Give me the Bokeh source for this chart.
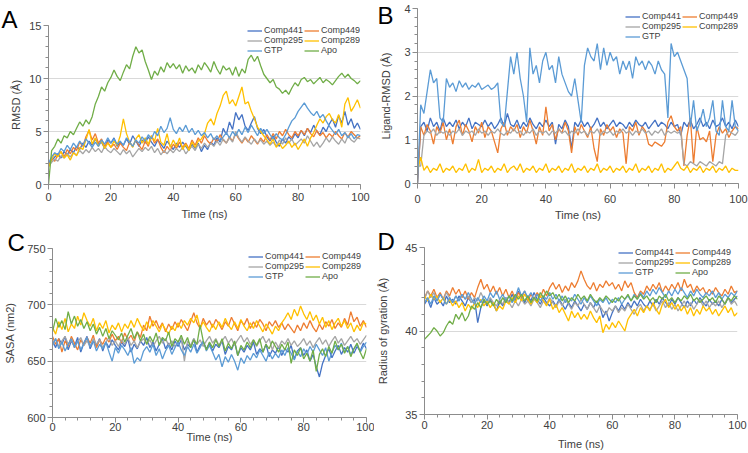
from bokeh.plotting import figure
from bokeh.models import Range1d, SingleIntervalTicker, Legend, LegendItem
from bokeh.layouts import column, row
from bokeh.embed import file_html
from bokeh.resources import INLINE

# ---------------- data ----------------
TIME = list(range(0, 101))  # ns, 1 ns sampling
SERIES = ["Comp441", "Comp449", "Comp295", "Comp289", "GTP", "Apo"]
# legend fills column by column: (Comp441, Comp295, GTP) | (Comp449, Comp289, Apo)
LEGEND_ORDER = ["Comp441", "Comp295", "GTP", "Comp449", "Comp289", "Apo"]
COLORS = {"Comp441": "#4472C4", "Comp449": "#ED7D31", "Comp295": "#A5A5A5",
          "Comp289": "#FFC000", "GTP": "#5B9BD5", "Apo": "#70AD47"}

# Panel A: RMSD (Å)
A_COMP441 = [1.8,
    2.3, 2.6, 2.9, 2.5, 3.1, 2.8, 3.3, 3.0, 3.6, 3.3,
    3.9, 3.5, 4.1, 3.7, 4.3, 3.8, 4.0, 3.4, 4.2, 3.9,
    4.4, 3.6, 4.0, 3.7, 4.3, 3.8, 4.6, 4.1, 3.6, 4.2,
    3.9, 4.5, 4.0, 3.6, 4.2, 3.8, 3.4, 4.1, 3.7, 3.3,
    3.9, 3.5, 4.0, 3.6, 3.2, 3.8, 3.4, 3.9, 3.1, 3.7,
    3.3, 4.0, 3.7, 4.4, 4.0, 5.3, 4.7, 5.9, 5.2, 6.8,
    6.1, 6.6, 5.5, 5.1, 5.8, 6.4, 5.3, 4.8, 5.2, 4.5,
    4.1, 4.6, 4.0, 3.6, 4.3, 3.9, 4.5, 4.2, 4.8, 4.4,
    5.1, 4.6, 5.3, 4.9, 5.6, 5.0, 4.7, 5.4, 5.0, 5.7,
    6.2, 5.4, 6.5, 5.8, 6.9, 5.6, 6.2, 5.3, 5.8, 5.2]
A_COMP449 = [1.9,
    2.4, 2.2, 2.8, 3.1, 2.6, 3.3, 2.9, 3.5, 3.2, 4.0,
    3.6, 4.5, 5.1, 4.2, 4.8, 3.9, 4.3, 3.6, 4.0, 3.5,
    3.8, 3.3, 3.9, 3.5, 3.2, 4.0, 3.6, 4.2, 3.7, 3.3,
    4.1, 3.6, 4.6, 3.9, 4.3, 3.5, 3.0, 3.6, 3.2, 3.8,
    3.4, 4.0, 3.5, 3.9, 3.4, 4.2, 3.7, 4.4, 3.9, 4.6,
    4.1, 3.8, 4.4, 4.0, 4.7, 4.2, 3.9, 4.5, 4.1, 4.8,
    4.3, 3.9, 4.4, 4.0, 4.6, 4.2, 3.8, 4.4, 4.0, 4.7,
    4.2, 4.8, 4.3, 5.0, 4.6, 5.2, 4.7, 4.4, 5.0, 4.6,
    5.1, 4.7, 5.3, 4.8, 4.5, 5.1, 4.6, 4.9, 4.4, 4.8,
    4.5, 5.0, 4.6, 4.3, 4.9, 4.5, 5.0, 4.7, 4.4, 4.6]
A_COMP295 = [1.7,
    2.1, 2.4, 2.2, 2.7, 2.5, 2.9, 2.6, 3.0, 2.8, 3.2,
    2.9, 3.3, 3.0, 3.5, 3.1, 3.4, 3.0, 3.6, 3.2, 3.0,
    3.4, 3.1, 2.8, 3.3, 2.9, 3.2, 2.6, 3.0, 3.4, 3.1,
    3.5, 3.2, 3.6, 3.0, 3.4, 2.8, 3.2, 2.9, 3.3, 3.0,
    3.4, 3.1, 3.5, 2.9, 3.3, 3.6, 3.2, 3.8, 3.4, 3.9,
    3.5, 3.9, 3.6, 4.1, 3.7, 4.3, 3.9, 4.4, 4.0, 5.0,
    4.4, 4.0, 4.5, 4.1, 3.8, 4.3, 3.9, 4.2, 3.8, 4.1,
    3.7, 4.0, 3.6, 4.2, 3.8, 4.4, 3.9, 4.3, 3.7, 4.0,
    4.3, 3.9, 4.6, 4.1, 3.6, 4.0, 3.5, 3.9, 4.4, 4.0,
    4.5, 4.1, 3.8, 4.3, 3.9, 4.6, 4.2, 4.0, 4.4, 4.3]
A_COMP289 = [1.6,
    2.4, 2.9, 2.6, 3.1, 2.5, 2.8, 2.3, 3.0, 2.7, 3.5,
    3.3, 4.2, 5.2, 3.8, 4.4, 3.6, 4.1, 3.4, 3.9, 3.5,
    4.1, 3.7, 4.6, 6.2, 4.8, 4.0, 3.5, 4.3, 4.7, 3.9,
    4.4, 3.8, 4.6, 4.1, 5.3, 4.0, 3.7, 4.8, 3.5, 4.2,
    3.6, 4.4, 3.3, 3.8, 3.2, 4.0, 3.5, 4.1, 4.3, 4.8,
    5.8, 6.2, 5.6, 6.7, 7.4, 8.4, 8.8, 7.6, 8.0, 7.4,
    8.3, 9.2, 7.6, 7.8, 6.9, 6.2, 5.4, 5.0, 4.6, 4.2,
    3.8, 4.3, 3.5, 3.9, 3.4, 3.7, 4.1, 3.5, 3.9, 3.3,
    3.8, 4.3, 3.6, 4.4, 4.9, 5.6, 6.2, 5.8, 6.4, 6.7,
    6.1, 5.8, 6.6, 5.4, 7.6, 8.2, 6.9, 7.4, 8.0, 7.2]
A_GTP = [2.0,
    2.6, 3.0, 2.8, 3.4, 3.1, 3.7, 3.3, 3.9, 3.5, 4.1,
    3.7, 4.3, 3.9, 3.5, 4.0, 3.6, 4.2, 3.8, 4.4, 3.9,
    4.3, 3.8, 4.1, 3.7, 4.4, 4.0, 3.6, 4.2, 3.9, 4.5,
    4.1, 4.7, 4.3, 5.0, 4.6, 5.5, 4.9, 5.3, 6.3, 5.2,
    4.8, 5.4, 5.0, 5.6, 4.9, 5.3, 4.7, 5.1, 4.6, 4.9,
    4.4, 4.8, 4.2, 4.6, 4.1, 4.5, 4.9, 4.4, 5.0, 4.6,
    5.2, 4.7, 5.4, 4.9, 5.6, 5.1, 4.6, 5.3, 4.8, 5.2,
    4.7, 4.3, 4.8, 4.4, 4.2, 4.7, 5.4, 6.0, 6.3, 6.9,
    7.3, 7.7, 7.2, 6.8, 6.5, 6.9, 6.3, 6.6, 6.0, 5.5,
    5.1, 4.7, 5.2, 4.6, 4.9, 4.4, 4.8, 4.3, 4.7, 4.6]
A_APO = [0.0,
    3.2, 3.6, 4.3, 3.9, 4.6, 4.4, 5.0, 4.7, 5.3, 5.9,
    5.5, 6.1, 5.7, 6.4, 7.6, 8.3, 9.2, 8.8, 9.6, 10.1,
    10.8, 10.2, 9.8, 10.6, 11.3, 10.9, 12.1, 13.0, 12.4, 12.7,
    11.6, 10.8, 9.9, 10.7, 10.3, 11.1, 10.6, 11.5, 11.0, 11.4,
    10.9, 11.3, 10.5, 11.2, 10.7, 11.0, 10.5, 11.3, 10.8, 11.5,
    11.1, 10.6, 11.6, 10.9, 10.4, 11.2, 10.8, 11.0, 10.3, 11.1,
    10.2, 10.9, 10.5, 11.8, 12.2, 11.6, 12.1, 11.2, 10.4, 10.0,
    9.6, 9.9, 9.2, 9.0, 8.6, 8.9, 8.5, 9.1, 9.6, 9.3,
    9.9, 10.1, 9.7, 9.9, 9.5, 9.8, 10.1, 9.6, 9.9, 9.7,
    9.4, 9.8, 10.2, 10.5, 10.1, 10.4, 10.0, 9.8, 9.5, 9.8]

# Panel B: Ligand-RMSD (Å)
B_COMP441 = [0.0,
    1.3, 1.4, 1.2, 1.5, 1.3, 1.4, 1.2, 1.5, 1.3, 1.4,
    1.3, 1.45, 1.25, 1.4, 1.3, 1.5, 1.25, 1.4, 1.35, 1.3,
    1.45, 1.3, 1.4, 1.25, 1.35, 1.5, 1.3, 1.6, 1.35, 1.3,
    1.45, 1.25, 1.4, 1.3, 1.5, 1.35, 1.25, 1.4, 1.3, 1.45,
    1.3, 1.4, 0.9, 1.35, 1.25, 1.45, 1.3, 0.8, 1.4, 1.3,
    1.45, 1.3, 1.4, 1.25, 1.35, 1.5, 1.3, 1.4, 1.25, 1.35,
    1.45, 1.3, 1.4, 1.35, 1.25, 1.4, 1.3, 1.45, 1.35, 1.3,
    1.4, 1.25, 1.35, 1.45, 1.3, 1.4, 1.35, 1.25, 1.4, 1.3,
    1.35, 1.1, 1.4, 1.3, 1.45, 1.25, 1.35, 1.5, 1.3, 1.4,
    1.25, 1.45, 1.3, 1.35, 1.5, 1.3, 1.4, 1.25, 1.45, 1.3]
B_COMP449 = [0.0,
    1.3, 1.1, 1.35, 1.2, 0.9, 1.3, 1.15, 1.4, 1.0, 1.25,
    0.9, 1.3, 1.45, 1.1, 1.35, 1.2, 0.95, 1.3, 1.15, 1.4,
    1.05, 1.3, 1.2, 0.95, 0.7, 1.25, 1.4, 1.1, 1.3, 1.2,
    1.35, 1.05, 1.3, 1.15, 1.45, 1.2, 0.9, 1.3, 1.1, 1.75,
    1.2, 1.35, 1.0, 1.25, 1.15, 1.4, 1.2, 0.7, 1.3, 1.1,
    1.35, 1.2, 1.05, 1.3, 0.8, 0.5, 1.25, 1.1, 1.35, 1.2,
    1.3, 1.05, 1.25, 1.15, 0.45, 1.3, 1.2, 1.4, 1.1, 1.3,
    1.2, 0.9, 0.85, 0.95, 0.9, 0.85, 0.95, 1.4, 1.55, 1.3,
    1.2, 1.3, 0.4, 1.1, 1.5, 0.45, 1.3, 1.0, 1.05, 0.95,
    1.2, 0.5, 1.1, 1.3, 1.15, 1.25, 1.05, 1.2, 1.3, 1.25]
B_COMP295 = [0.4,
    0.4, 1.1, 1.2, 1.15, 1.25, 1.1, 1.2, 1.15, 1.2, 1.1,
    1.2, 1.15, 1.25, 1.1, 1.2, 1.15, 1.2, 1.1, 1.25, 1.15,
    1.2, 1.1, 1.2, 1.15, 1.25, 1.15, 1.1, 1.2, 1.15, 1.25,
    1.15, 1.2, 1.1, 1.2, 1.15, 1.25, 1.1, 1.2, 1.15, 1.2,
    1.1, 1.2, 1.15, 1.25, 1.15, 1.2, 1.1, 1.2, 1.15, 1.25,
    1.15, 1.2, 1.1, 1.2, 1.15, 1.25, 1.1, 1.2, 1.15, 1.2,
    1.1, 1.2, 1.15, 1.25, 1.15, 1.2, 1.1, 1.2, 1.15, 1.25,
    1.15, 1.2, 1.1, 1.2, 1.15, 1.25, 1.1, 1.2, 1.15, 1.2,
    1.15, 1.2, 0.45, 0.4, 0.5, 0.45, 0.4, 0.5, 0.45, 0.4,
    0.5, 0.45, 0.4, 0.5, 0.45, 1.1, 1.2, 1.15, 1.1, 1.2]
B_COMP289 = [0.3,
    0.6, 0.3, 0.4, 0.25, 0.35, 0.3, 0.45, 0.25, 0.35, 0.3,
    0.4, 0.25, 0.35, 0.3, 0.45, 0.25, 0.35, 0.3, 0.55, 0.25,
    0.35, 0.3, 0.4, 0.25, 0.35, 0.3, 0.45, 0.25, 0.35, 0.4,
    0.3, 0.45, 0.25, 0.35, 0.3, 0.4, 0.25, 0.35, 0.3, 0.45,
    0.25, 0.35, 0.3, 0.4, 0.25, 0.35, 0.3, 0.45, 0.25, 0.35,
    0.3, 0.4, 0.25, 0.35, 0.3, 0.45, 0.25, 0.35, 0.3, 0.4,
    0.25, 0.35, 0.3, 0.4, 0.25, 0.35, 0.3, 0.45, 0.25, 0.35,
    0.3, 0.4, 0.25, 0.35, 0.3, 0.45, 0.25, 0.35, 0.3, 0.4,
    0.5, 0.35, 0.3, 0.4, 0.25, 0.35, 0.3, 0.4, 0.25, 0.35,
    0.3, 0.4, 0.25, 0.35, 0.3, 0.4, 0.25, 0.35, 0.3, 0.3]
B_GTP = [0.0,
    1.8, 1.6, 2.1, 2.6, 2.3, 2.4, 1.5, 1.4, 2.4, 2.2,
    2.3, 2.1, 2.35, 2.2, 2.3, 2.15, 2.25, 2.2, 2.3, 2.15,
    2.2, 2.25, 2.15, 2.2, 2.3, 1.4, 1.3, 2.1, 2.9, 2.5,
    3.0, 2.4, 2.0, 1.4, 3.1, 2.5, 2.7, 2.3, 2.8, 3.0,
    2.6, 2.7, 2.3, 2.9, 2.5, 2.3, 2.1, 2.0, 2.4, 1.9,
    1.4, 2.7, 3.1, 2.9, 2.8, 3.2, 2.6, 3.1, 2.7, 3.0,
    2.8, 2.9, 2.5, 2.8, 2.6, 2.8, 2.4, 2.9, 2.7, 2.8,
    2.6, 2.8, 2.7, 2.5, 2.8, 2.6, 2.5, 1.5, 3.2, 2.9,
    3.0, 2.8, 2.6, 2.4, 1.3, 1.9, 1.2, 1.4, 1.7, 1.3,
    1.5, 1.9, 1.2, 1.1, 1.9, 1.3, 1.2, 1.9, 1.3, 1.2]

# Panel C: SASA (nm2)
C_COMP441 = [668,
    662, 670, 665, 672, 660, 668, 663, 671, 658, 666,
    672, 661, 668, 664, 670, 659, 667, 662, 669, 664,
    660, 667, 663, 670, 658, 665, 661, 668, 664, 671,
    662, 667, 659, 665, 670, 661, 666, 660, 668, 663,
    669, 660, 665, 662, 670, 658, 664, 667, 661, 666,
    659, 665, 662, 668, 656, 663, 660, 667, 655, 662,
    658, 664, 660, 667, 656, 661, 658, 665, 654, 660,
    657, 663, 655, 661, 658, 664, 652, 659, 662, 655,
    660, 650, 656, 645, 636, 648, 655, 661, 653, 659,
    664, 656, 662, 658, 665, 657, 663, 659, 666, 661]
C_COMP449 = [672,
    665, 670, 658, 668, 663, 672, 666, 660, 669, 664,
    671, 666, 673, 662, 669, 665, 671, 667, 674, 668,
    672, 666, 675, 669, 673, 667, 676, 671, 682, 677,
    690, 681, 686, 679, 684, 676, 683, 678, 685, 680,
    687, 682, 677, 685, 693, 684, 679, 688, 682, 686,
    680, 687, 683, 678, 685, 681, 689, 683, 677, 686,
    682, 688, 679, 685, 680, 687, 683, 677, 685, 681,
    686, 680, 684, 678, 683, 679, 675, 682, 677, 684,
    679, 686, 680, 676, 683, 678, 685, 681, 687, 679,
    684, 680, 688, 682, 694, 685, 689, 681, 686, 680]
C_COMP295 = [665,
    670, 663, 668, 672, 665, 669, 662, 667, 671, 664,
    668, 663, 670, 665, 669, 662, 667, 671, 664, 668,
    663, 669, 665, 671, 664, 668, 662, 667, 670, 665,
    669, 663, 668, 672, 666, 670, 664, 668, 663, 667,
    671, 650, 668, 664, 670, 665, 669, 663, 668, 672,
    666, 670, 664, 668, 672, 666, 670, 664, 669, 673,
    667, 671, 665, 669, 663, 668, 672, 666, 670, 660,
    667, 662, 668, 665, 670, 664, 668, 663, 666, 670,
    664, 668, 662, 667, 671, 665, 669, 663, 668, 672,
    666, 670, 664, 668, 672, 667, 670, 665, 669, 673]
C_COMP289 = [680,
    674, 685, 678, 688, 676, 683, 679, 690, 682, 693,
    686, 681, 688, 677, 684, 679, 686, 675, 682, 678,
    684, 676, 683, 679, 686, 680, 688, 682, 677, 685,
    679, 686, 681, 676, 683, 678, 674, 681, 677, 684,
    679, 686, 682, 688, 684, 691, 679, 685, 680, 676,
    683, 678, 685, 680, 688, 682, 678, 685, 679, 687,
    681, 677, 684, 679, 686, 681, 676, 683, 679, 674,
    681, 677, 684, 688, 693, 687, 696, 690, 699, 692,
    687, 694, 686, 691, 683, 689, 680, 686, 678, 684,
    688, 681, 686, 679, 684, 676, 682, 677, 684, 683]
C_GTP = [664,
    670, 661, 667, 659, 665, 670, 662, 668, 660, 666,
    671, 663, 668, 659, 665, 661, 667, 658, 650, 662,
    657, 664, 660, 655, 662, 648, 653, 650, 659, 663,
    658, 665, 655, 661, 652, 659, 664, 656, 662, 667,
    660, 655, 663, 658, 665, 657, 662, 668, 659, 664,
    658, 651, 656, 645, 654, 649, 656, 650, 642, 653,
    648, 655, 651, 657, 653, 660, 655, 650, 658, 652,
    657, 653, 660, 655, 662, 657, 651, 659, 654, 661,
    656, 663, 658, 665, 660, 655, 662, 650, 658, 664,
    660, 666, 658, 663, 656, 661, 665, 658, 663, 667]
C_APO = [676,
    688, 680, 686, 678, 694, 683, 690, 681, 687, 679,
    685, 677, 683, 674, 680, 672, 679, 670, 677, 673,
    669, 675, 667, 673, 679, 670, 676, 668, 674, 665,
    672, 667, 675, 664, 671, 668, 676, 663, 670, 667,
    673, 665, 671, 662, 669, 665, 682, 668, 660, 667,
    662, 669, 663, 670, 659, 666, 661, 668, 655, 664,
    660, 667, 662, 669, 664, 670, 658, 665, 661, 668,
    663, 658, 665, 660, 667, 648, 660, 655, 662, 652,
    657, 650, 660, 641, 656, 661, 654, 663, 657, 668,
    660, 665, 657, 663, 654, 661, 666, 658, 652, 661]

# Panel D: Radius of gyration (Å)
D_COMP441 = [41.6,
    41.9, 41.4, 42.0, 41.6, 41.8, 41.5, 42.1, 41.7, 41.9, 41.6,
    42.1, 41.8, 41.5, 42.0, 41.7, 41.9, 40.5, 41.4, 41.8, 41.5,
    41.9, 41.6, 41.2, 41.8, 41.5, 42.0, 41.7, 42.2, 41.8, 42.4,
    42.0, 41.7, 42.1, 41.8, 42.3, 41.9, 41.6, 42.0, 41.7, 41.5,
    41.8, 41.5, 41.9, 41.6, 41.3, 41.7, 41.4, 41.8, 41.5, 41.2,
    41.6, 41.3, 41.7, 41.4, 41.8, 41.5, 40.8, 41.2, 40.6, 41.1,
    41.5, 41.2, 41.6, 41.3, 41.7, 41.4, 41.8, 41.5, 41.9, 41.6,
    41.4, 41.8, 41.5, 41.9, 41.6, 42.0, 41.7, 41.5, 41.9, 41.6,
    42.0, 41.7, 41.4, 41.8, 41.5, 41.9, 41.6, 42.0, 41.7, 41.5,
    41.9, 41.6, 41.8, 41.5, 41.9, 41.6, 42.0, 41.7, 41.9, 42.1]
D_COMP449 = [42.0,
    42.4, 42.1, 42.5, 42.0, 42.3, 41.9, 42.4, 42.1, 42.6, 42.2,
    42.5, 42.0, 42.4, 41.9, 42.3, 42.0, 42.6, 43.1, 42.5, 42.8,
    42.3, 42.7, 42.2, 42.6, 42.1, 42.5, 42.0, 42.4, 41.9, 42.3,
    42.0, 42.4, 41.8, 42.2, 41.9, 42.3, 42.0, 42.5, 42.1, 42.6,
    42.9, 42.5, 42.8, 42.3, 42.7, 42.4, 42.9, 42.6, 43.0, 43.6,
    43.1, 42.7, 42.5, 42.9, 42.4, 42.8, 42.6, 43.0, 42.7, 42.9,
    42.5, 42.8, 42.4, 43.0, 42.6, 42.9, 42.3, 42.0, 42.4, 42.2,
    42.7, 42.4, 42.8, 42.5, 42.9, 42.3, 42.7, 42.4, 42.8, 42.5,
    42.9, 42.4, 43.1, 42.6, 42.8, 42.3, 42.7, 42.4, 42.6, 42.2,
    42.5, 42.2, 42.6, 42.3, 42.1, 42.5, 42.2, 42.7, 42.3, 42.4]
D_COMP295 = [41.9,
    42.4, 42.0, 42.3, 41.8, 42.2, 41.9, 42.3, 42.0, 41.7, 42.1,
    41.8, 42.2, 41.9, 42.1, 41.7, 42.0, 41.8, 42.3, 41.9, 41.6,
    42.0, 41.7, 41.5, 41.9, 41.6, 42.0, 41.7, 41.4, 41.8, 41.5,
    41.9, 41.6, 41.8, 41.5, 41.9, 41.7, 41.4, 41.8, 41.6, 42.0,
    41.7, 41.4, 41.8, 41.5, 41.9, 41.6, 41.3, 41.7, 41.5, 41.9,
    41.6, 41.3, 41.7, 41.4, 41.1, 41.5, 41.2, 41.0, 41.4, 41.2,
    41.5, 41.1, 41.4, 41.2, 41.6, 41.3, 41.0, 41.4, 41.6, 41.2,
    41.5, 41.3, 41.6, 41.2, 41.5, 41.8, 41.4, 41.7, 41.3, 41.6,
    41.2, 41.5, 41.8, 41.4, 41.7, 41.3, 41.6, 41.9, 41.5, 41.8,
    41.4, 41.7, 41.5, 41.8, 41.4, 41.7, 42.0, 41.6, 41.8, 41.5]
D_COMP289 = [42.1,
    41.8, 42.2, 41.9, 42.1, 41.7, 42.0, 41.6, 41.9, 41.5, 41.8,
    41.4, 41.7, 41.2, 41.6, 41.3, 41.7, 41.4, 41.9, 41.5, 41.8,
    41.4, 41.7, 41.2, 41.5, 41.3, 41.8, 41.6, 42.0, 41.7, 42.1,
    41.8, 42.2, 41.9, 41.6, 42.0, 41.7, 42.1, 41.8, 41.5, 41.9,
    41.3, 41.6, 41.1, 41.4, 41.0, 40.6, 41.2, 40.8, 41.1, 40.7,
    41.0, 40.7, 41.2, 40.8, 40.5, 40.9, 39.9, 40.4, 40.1, 40.5,
    40.2, 40.6, 40.3, 40.0, 40.7, 41.0, 41.3, 40.9, 41.4, 41.1,
    41.5, 41.2, 41.7, 41.3, 41.0, 41.6, 41.9, 41.4, 41.7, 41.3,
    41.6, 41.2, 41.5, 41.0, 41.4, 40.9, 41.3, 41.0, 41.5, 41.2,
    41.4, 41.0, 41.3, 40.9, 41.2, 41.5, 41.1, 41.4, 40.9, 41.1]
D_GTP = [41.7,
    42.0, 41.6, 42.1, 41.8, 42.2, 41.9, 41.6, 42.0, 41.7, 42.1,
    41.8, 42.2, 41.9, 42.3, 41.9, 41.6, 42.0, 41.7, 42.1, 41.8,
    42.3, 42.0, 42.4, 41.9, 42.2, 41.8, 42.1, 41.7, 42.0, 42.6,
    42.1, 42.4, 42.0, 42.3, 41.9, 42.2, 41.8, 42.1, 41.9, 42.3,
    41.9, 42.2, 41.8, 42.1, 41.7, 42.0, 41.8, 42.2, 41.9, 41.6,
    42.0, 41.7, 42.1, 41.8, 41.5, 41.9, 41.7, 42.0, 41.6, 41.9,
    41.7, 42.0, 41.6, 41.9, 42.1, 41.8, 42.2, 41.9, 42.3, 42.0,
    42.4, 42.1, 42.5, 42.2, 42.6, 42.3, 42.0, 42.4, 42.1, 42.5,
    42.2, 42.6, 42.3, 42.0, 42.4, 42.1, 42.5, 42.2, 42.0, 42.3,
    42.1, 42.4, 42.0, 42.3, 41.9, 42.2, 42.0, 42.3, 42.1, 42.4]
D_APO = [39.5,
    39.7, 39.9, 40.2, 40.0, 39.7, 39.9, 40.3, 40.6, 40.4, 41.0,
    40.7, 41.1, 40.6, 40.9, 41.5, 41.3, 41.7, 41.4, 41.9, 41.6,
    41.8, 41.5, 41.9, 41.6, 42.0, 41.7, 42.1, 41.8, 42.2, 41.9,
    42.2, 41.8, 42.1, 41.7, 42.0, 41.8, 42.3, 42.0, 42.4, 42.1,
    42.3, 41.9, 42.2, 41.8, 42.1, 41.7, 42.0, 41.8, 42.2, 41.9,
    42.1, 41.8, 42.2, 41.9, 41.7, 42.0, 41.8, 42.1, 41.9, 41.7,
    42.0, 41.8, 42.1, 41.9, 42.2, 41.8, 42.1, 41.9, 42.2, 41.9,
    42.1, 41.8, 42.0, 41.7, 42.1, 41.9, 42.2, 41.8, 42.0, 41.7,
    42.0, 41.8, 42.1, 41.9, 42.2, 41.8, 42.0, 41.7, 41.9, 42.1,
    41.8, 42.0, 41.7, 42.1, 41.9, 41.6, 42.0, 41.8, 42.1, 41.9]

# ---------------- styling ----------------
FONT = "Liberation Sans"
AXC = "#8C8C8C"
TXT = "#404040"


def make_panel(letter, ytitle, yr, yint, data, width, height, borders,
               letter_pos, legend_xy, xstand, ystand):
    left, right, top, bottom = borders
    p = figure(width=width, height=height, output_backend="svg",
               toolbar_location=None, x_range=Range1d(0, 100),
               y_range=Range1d(*yr), min_border_left=left,
               min_border_right=right, min_border_top=top,
               min_border_bottom=bottom)
    p.outline_line_color = None
    p.xgrid.visible = False
    yt = SingleIntervalTicker(interval=yint, num_minor_ticks=5)
    xt = SingleIntervalTicker(interval=20, num_minor_ticks=5)
    p.xaxis.ticker = xt
    p.yaxis.ticker = yt
    p.ygrid.ticker = yt
    p.ygrid.grid_line_color = "#D9D9D9"
    p.ygrid.grid_line_width = 1
    p.xaxis.axis_label = "Time (ns)"
    p.yaxis.axis_label = ytitle
    for ax in (p.xaxis[0], p.yaxis[0]):
        ax.axis_line_color = AXC
        ax.major_tick_line_color = AXC
        ax.minor_tick_line_color = AXC
        ax.major_tick_in = 0
        ax.minor_tick_in = 0
        ax.major_tick_out = 5
        ax.minor_tick_out = 3
        ax.major_label_text_font = FONT
        ax.major_label_text_font_size = "11px"
        ax.major_label_text_color = TXT
        ax.axis_label_text_font = FONT
        ax.axis_label_text_font_size = "11px"
        ax.axis_label_text_font_style = "normal"
        ax.axis_label_text_color = TXT
    p.xaxis.major_label_standoff = xstand[0]
    p.xaxis.axis_label_standoff = xstand[1]
    p.yaxis.major_label_standoff = ystand[0]
    p.yaxis.axis_label_standoff = ystand[1]

    rend = {}
    for name in SERIES:
        if name not in data:
            continue
        ys = data[name]
        rend[name] = p.line(TIME[:len(ys)], ys, line_color=COLORS[name],
                            line_width=1.3)
    items = [LegendItem(label=n, renderers=[rend[n]])
             for n in LEGEND_ORDER if n in rend]
    leg = Legend(items=items, location=legend_xy, ncols=2,
                 label_text_font=FONT, label_text_font_size="9px",
                 label_text_color=TXT, glyph_width=15, glyph_height=9,
                 label_height=9, label_width=40, label_standoff=2,
                 spacing=0, padding=0, margin=0, border_line_alpha=0,
                 background_fill_alpha=0, level="overlay")
    p.add_layout(leg)

    # panel letter, drawn as the plot title in the top border
    offset, valign = letter_pos
    p.title.text = letter
    p.title.text_font = FONT
    p.title.text_font_size = "24px"
    p.title.text_font_style = "normal"
    p.title.text_color = "#000000"
    p.title.align = "left"
    p.title.offset = offset
    p.title.standoff = -40
    p.title.vertical_align = valign
    return p


pA = make_panel("A", "RMSD (Å)", (0, 15), 5,
                {"Comp441": A_COMP441, "Comp449": A_COMP449, "Comp295": A_COMP295,
                 "Comp289": A_COMP289, "GTP": A_GTP, "Apo": A_APO},
                374, 226, (48, 14, 25, 42), (-47, "top"), (199, 129), (3, 4), (2, 4))
pB = make_panel("B", "Ligand-RMSD (Å)", (0, 4), 1,
                {"Comp441": B_COMP441, "Comp449": B_COMP449, "Comp295": B_COMP295,
                 "Comp289": B_COMP289, "GTP": B_GTP},
                374, 226, (43, 10, 8, 43), (-40, "bottom"), (208, 142), (6, 3), (2, 9))
pC = make_panel("C", "SASA (nm2)", (600, 750), 50,
                {"Comp441": C_COMP441, "Comp449": C_COMP449, "Comp295": C_COMP295,
                 "Comp289": C_COMP289, "GTP": C_GTP, "Apo": C_APO},
                374, 227, (52, 8, 22, 36), (-45, "top"), (196, 136), (0, -3), (2, 8))
pD = make_panel("D", "Radius of gyration (Å)", (35, 45), 5,
                {"Comp441": D_COMP441, "Comp449": D_COMP449, "Comp295": D_COMP295,
                 "Comp289": D_COMP289, "GTP": D_GTP, "Apo": D_APO},
                374, 227, (49, 11, 21, 39), (-47, "top"), (194, 137), (1, 6), (2, 13))

layout = column(row(column(pA), column(pB)), row(column(pC), column(pD)))
open("out.html", "w", encoding="utf-8").write(file_html(layout, INLINE))
